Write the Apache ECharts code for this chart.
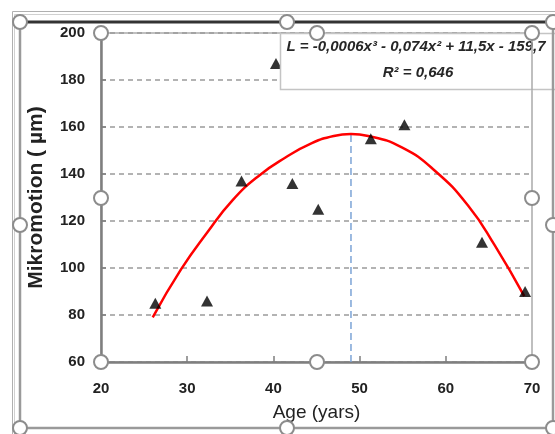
<!DOCTYPE html>
<html>
<head>
<meta charset="utf-8">
<script src="https://cdn.jsdelivr.net/npm/echarts@6/dist/echarts.min.js"></script>
<style>
  html, body { margin: 0; padding: 0; background: #fff; }
  #chart { width: 555px; height: 434px; }
</style>
</head>
<body>
<div id="chart"></div>
<script>
// measured points (age, micromotion)
var ages = [26.3, 32.3, 36.3, 40.3, 42.2, 45.2, 51.3, 55.2, 64.2, 69.2]
var motion = [85, 86, 137, 187, 136, 125, 155, 161, 111, 90]

// trend curve
var trendAges = [26.0, 29.3, 32.3, 35.3, 38.4, 41.4, 44.4, 47.0, 49.0, 51.0, 54.9, 58.7, 62.6, 65.7, 69.1]
var trendValues = [79, 99.5, 115, 129, 139.5, 147, 153, 156.2, 157, 156.2, 151.3, 141.5, 126.5, 109.5, 88]

// vertical marker at the peak
var peakAge = 49.0
var peakLine = [60, 157]

var xTicks = [20, 30, 40, 50, 60, 70]
var yTicks = [60, 80, 100, 120, 140, 160, 180, 200]

var equation = 'L = -0,0006x³ - 0,074x² + 11,5x - 159,7'
var rSquared = 'R² = 0,646'

var chart = echarts.init(document.getElementById('chart'))

function pairs(xs, ys) {
  return xs.map(function (x, i) { return [x, ys[i]] })
}

// selection handle (white circle, grey ring)
function handle(x, y) {
  return {
    type: 'circle',
    z: 120,
    shape: { cx: x, cy: y, r: 7 },
    style: { fill: '#fff', stroke: '#8c8c8c', lineWidth: 2 }
  }
}

function seg(x1, y1, x2, y2, color, w, z) {
  return {
    type: 'line',
    z: z || 110,
    shape: { x1: x1, y1: y1, x2: x2, y2: y2 },
    style: { stroke: color, lineWidth: w }
  }
}

var graphics = [
  // outer frame lines
  { type: 'rect', z: 1, shape: { x: 12.5, y: 11.5, width: 600, height: 600 }, style: { fill: null, stroke: '#b0b0b0', lineWidth: 1 } },
  { type: 'rect', z: 1, shape: { x: 14.5, y: 14.5, width: 600, height: 600 }, style: { fill: null, stroke: '#d0d0d0', lineWidth: 1 } },
  seg(20, 22, 560, 22, '#333', 3, 105),
  seg(20, 22, 20, 428, '#9a9a9a', 2.5, 105),
  seg(20, 428, 560, 428, '#9a9a9a', 2.5, 105),
  seg(553, 22, 553, 428, '#9a9a9a', 2.5, 105),
  // equation box
  {
    type: 'rect', z: 100,
    shape: { x: 280.5, y: 33.5, width: 290, height: 56 },
    style: { fill: '#fff', stroke: '#c4c4c4', lineWidth: 1.5 }
  },
  {
    type: 'text', z: 101,
    style: { text: equation, x: 416, y: 47, align: 'center', verticalAlign: 'middle',
      font: 'italic bold 15px "Liberation Sans", Arial, sans-serif', fill: '#262626' }
  },
  {
    type: 'text', z: 101,
    style: { text: rSquared, x: 418, y: 73, align: 'center', verticalAlign: 'middle',
      font: 'italic bold 15px "Liberation Sans", Arial, sans-serif', fill: '#262626' }
  },
  // plot area border seen through the box
  seg(532, 33, 532, 90, '#aaaaaa', 1.5, 102),
  // handles of the chart area
  handle(20, 22), handle(287, 22), handle(553, 22),
  handle(20, 225), handle(553, 225),
  handle(20, 428), handle(287, 428), handle(553, 428),
  // handles of the plot area
  handle(101, 33), handle(317, 33), handle(532, 33),
  handle(101, 198), handle(532, 198),
  handle(101, 362), handle(317, 362), handle(532, 362)
]

chart.setOption({
  backgroundColor: '#fff',
  animation: false,
  textStyle: { fontFamily: '"Liberation Sans", Arial, sans-serif' },
  grid: {
    left: 101,
    top: 33,
    right: 23,
    bottom: 72,
    show: true,
    borderColor: '#aaaaaa',
    borderWidth: 1.5,
    backgroundColor: 'transparent'
  },
  xAxis: {
    type: 'value',
    min: xTicks[0],
    max: xTicks[xTicks.length - 1],
    interval: 10,
    name: 'Age (yars)',
    nameLocation: 'middle',
    nameGap: 41,
    nameTextStyle: { fontSize: 19, color: '#222' },
    axisLine: { lineStyle: { color: '#7f7f7f', width: 2.5 } },
    axisTick: { show: true, inside: true, length: 6, lineStyle: { color: '#7f7f7f', width: 1.5 } },
    axisLabel: { fontSize: 15, fontWeight: 'bold', color: '#222', margin: 19 },
    splitLine: { show: false }
  },
  yAxis: {
    type: 'value',
    min: yTicks[0],
    max: yTicks[yTicks.length - 1],
    interval: 20,
    name: 'Mikromotion ( µm)',
    nameLocation: 'middle',
    nameGap: 54,
    nameTextStyle: { fontSize: 21, fontWeight: 'bold', color: '#222' },
    axisLine: { show: true, lineStyle: { color: '#7f7f7f', width: 2.5 } },
    axisTick: { show: true, inside: true, length: 5, lineStyle: { color: '#7f7f7f', width: 1.5 } },
    axisLabel: { fontSize: 15, fontWeight: 'bold', color: '#222', margin: 16 },
    splitLine: { show: true, lineStyle: { color: '#9a9a9a', width: 1.5, type: [5, 4] } }
  },
  graphic: graphics,
  series: [
    {
      name: 'peak',
      type: 'line',
      data: [[peakAge, peakLine[0]], [peakAge, peakLine[1]]],
      showSymbol: false,
      lineStyle: { color: '#7ba3d6', width: 1.5, type: [7, 4] },
      z: 3
    },
    {
      name: 'trend',
      type: 'line',
      data: pairs(trendAges, trendValues),
      smooth: 0.5,
      showSymbol: false,
      lineStyle: { color: '#ff0000', width: 2.5 },
      z: 4
    },
    {
      name: 'Mikromotion',
      type: 'scatter',
      data: pairs(ages, motion),
      symbol: 'triangle',
      symbolSize: [12, 11],
      itemStyle: { color: '#000' },
      z: 5
    }
  ]
})
</script>
</body>
</html>
